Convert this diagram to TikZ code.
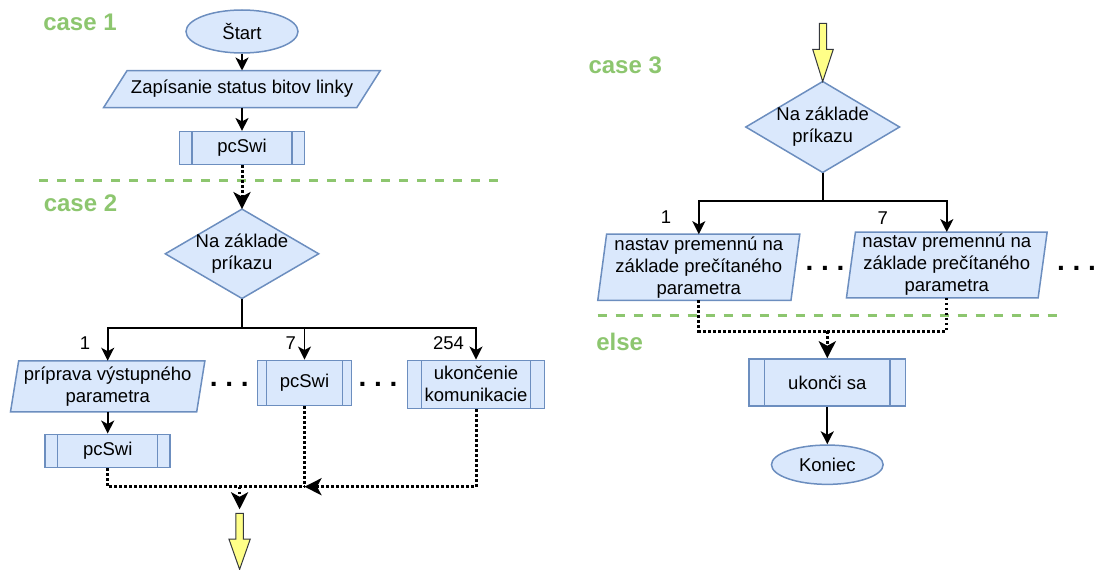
\documentclass[tikz,border=0pt]{standalone}
\usepackage{fontspec}
\setmainfont{Liberation Sans}
\usetikzlibrary{arrows.meta,shapes.geometric,calc,backgrounds}

\definecolor{boxfill}{HTML}{DAE8FC}
\definecolor{boxline}{HTML}{6C8EBF}
\definecolor{casegreen}{HTML}{8DC66F}
\definecolor{flexfill}{HTML}{FFFF88}
\definecolor{flexline}{HTML}{36393D}

% outline of a parallelogram laid over a plain rectangular node
\newcommand\slantframe[2]{%
  \path[shapeline] ([xshift=#2pt]#1.north west) -- ([xshift=#2pt]#1.north east)
    -- ([xshift=-#2pt]#1.south east) -- ([xshift=-#2pt]#1.south west) -- cycle;}
% outline of a decision diamond over a plain rectangular node
\newcommand\diamondframe[1]{%
  \path[shapeline] (#1.north) -- (#1.east) -- (#1.south) -- (#1.west) -- cycle;}

\begin{document}
\begin{tikzpicture}[x=1pt,y=-1pt,
  every node/.style={font=\fontsize{18.5}{22}\selectfont, inner sep=0pt, align=center},
  shapeline/.style={draw=boxline, fill=boxfill, line width=1.5pt, line join=miter},
  slotframe/.style={rectangle},
  term/.style={ellipse, draw=boxline, fill=boxfill, line width=1.5pt},
  procbox/.style={rectangle, draw=boxline, fill=boxfill, line width=1.5pt,
    path picture={
      \draw[boxline, line width=1.5pt]
        ($(path picture bounding box.north west)!0.1!(path picture bounding box.north east)$) --
        ($(path picture bounding box.south west)!0.1!(path picture bounding box.south east)$)
        ($(path picture bounding box.north west)!0.9!(path picture bounding box.north east)$) --
        ($(path picture bounding box.south west)!0.9!(path picture bounding box.south east)$);}},
  flow/.style={draw=black, line width=1.7pt, -{Stealth[length=13pt,width=13pt,inset=3.5pt]}},
  plainline/.style={draw=black, line width=1.7pt},
  dotflow/.style={draw=black, line width=3pt, dash pattern=on 2.5pt off 2.5pt},
  dothead/.style={-{Stealth[length=17pt,width=17pt,inset=4.5pt]}},
  sep/.style={draw=casegreen, line width=3pt, dash pattern=on 9pt off 9pt},
  casetxt/.style={text=casegreen, font=\fontsize{24}{28}\selectfont\bfseries},
  ellipsis/.style={anchor=base, font=\fontsize{28}{30}\selectfont\bfseries\frenchspacing},
  flexarrow/.style={fill=flexfill, draw=flexline, line width=1pt, line join=miter}
]
\useasboundingbox (0,0) rectangle (1096,570);

% section labels and separators
\node[casetxt] (c1) at (80,22) {case 1};
\node[casetxt] (c2) at (80.5,203.5) {case 2};
\node[casetxt] (c3) at (625.2,65.5) {case 3};
\node[casetxt] (c4) at (619.7,341.7) {else};
\draw[sep] (39,180) -- (498,180);
\draw[sep] (597.7,315.7) -- (1056.7,315.7);

% ---- case 1 / case 2 column ----
\node[term, minimum width=112pt, minimum height=43pt] (start) at (242,31.5) {Štart};
\node[slotframe, minimum width=252.8pt, minimum height=36.6pt] (zap) at (242,89) {Zapísanie status bitov linky};
\node[procbox, minimum width=125.3pt, minimum height=32.6pt] (pc1) at (242,148) {pcSwi};
\node[slotframe, minimum width=153pt, minimum height=89pt] (d1) at (242,253.8) {Na základe\\príkazu};
\coordinate (jb1) at (242,328.3);

\node[slotframe, minimum width=185.8pt, minimum height=50.7pt] (b1) at (107.7,386.3) {príprava výstupného\\parametra};
\node[procbox, minimum width=94.4pt, minimum height=45.4pt] (m7) at (304.5,383) {pcSwi};
\node[procbox, minimum width=136.6pt, minimum height=48pt] (uk) at (476,384.3) {ukončenie\\komunikacie};
\node[procbox, minimum width=125pt, minimum height=33.4pt] (pc2) at (107.7,451) {pcSwi};

\node (l1) at (85,343.3) {1};
\node (l7) at (290.7,343.3) {7};
\node (l254) at (448.5,343.3) {254};
\node[ellipsis] (e1) at (229.2,386) {. . .};
\node[ellipsis] (e2) at (378,386) {. . .};

\coordinate (j1) at (239.6,486.7);
\coordinate (j2) at (304.5,486.7);
\coordinate (yl) at (239.6,513.3);

% ---- case 3 / else column ----
\node[slotframe, minimum width=153.3pt, minimum height=90.6pt] (d2) at (822.7,127) {Na základe\\príkazu};
\coordinate (jb2) at (822.7,201);
\node[slotframe, minimum width=192.8pt, minimum height=65.7pt] (p1) at (698.8,267.2) {nastav premennú na\\základe prečítaného\\parametra};
\node[slotframe, minimum width=191.3pt, minimum height=65.4pt] (p7) at (946.8,265) {nastav premennú na\\základe prečítaného\\parametra};
\node (r1) at (666,217.3) {1};
\node (r7) at (882.7,218.3) {7};
\node[ellipsis] (e3) at (825,270.3) {. . .};
\node[ellipsis] (e4) at (1076.5,270.3) {. . .};
\coordinate (j3) at (827.3,331);
\node[procbox, minimum width=156.7pt, minimum height=47pt] (ue) at (827.3,382.5) {ukonči sa};
\node[term, minimum width=111.7pt, minimum height=39.3pt] (kon) at (827.3,464.7) {Koniec};

% shape outlines behind the texts
\begin{scope}[on background layer]
  \slantframe{zap}{11.75}
  \slantframe{b1}{4.1}
  \slantframe{p1}{4.4}
  \slantframe{p7}{4.5}
  \diamondframe{d1}
  \diamondframe{d2}
\end{scope}

% connectors, left column
\draw[flow] (start.south) -- (zap.north);
\draw[flow] (zap.south) -- (pc1.north);
\draw[dotflow, dothead] (pc1.south) -- (d1.north);
\draw[plainline] (d1.south) -- (jb1);
\draw[flow] (jb1) -| (b1.north);
\draw[flow] (jb1) -| (m7.north);
\draw[flow] (jb1) -| (uk.north);
\draw[flow] (b1.south) -- (pc2.north);
\draw[dotflow] (pc2.south) |- (j2);
\draw[dotflow] (m7.south) -- (j2);
\draw[dotflow, dothead] (uk.south) |- (j2);
\draw[dotflow, dothead, shorten >=4pt] (j1) -- (yl);

% continuation arrows
\draw[flexarrow] (yl) ++(-3.7,0) -- ++(0,25.7) -- ++(-7,0) -- (239.6,569.4)
  -- (250.3,539) -- (243.3,539) -- (243.3,513.3) -- cycle;
\draw[flexarrow] (819.3,23.3) -- (819.3,49.3) -- (812.7,49.3) -- (d2.north)
  -- (833.3,49.3) -- (826.7,49.3) -- (826.7,23.3) -- cycle;

% connectors, right column
\draw[plainline] (d2.south) -- (jb2);
\draw[flow] (jb2) -| (p1.north);
\draw[flow] (jb2) -| (p7.north);
\draw[dotflow] (p1.south) |- (j3);
\draw[dotflow] (p7.south) |- (j3);
\draw[dotflow, dothead] (j3) -- (ue.north);
\draw[flow] (ue.south) -- (kon.north);
\end{tikzpicture}
\end{document}
